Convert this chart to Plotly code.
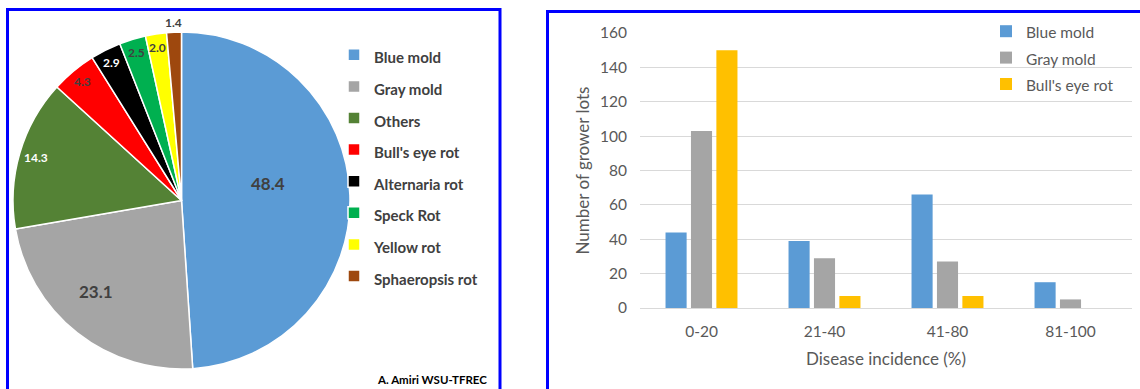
import math
import plotly.graph_objects as go

# ---------------- data ----------------
pie_labels = ["Blue mold", "Gray mold", "Others", "Bull's eye rot",
              "Alternaria rot", "Speck Rot", "Yellow rot", "Sphaeropsis rot"]
pie_values = [48.4, 23.1, 14.3, 4.3, 2.9, 2.5, 2.0, 1.4]

bar_categories = ["0-20", "21-40", "41-80", "81-100"]
blue_mold = [44, 39, 66, 15]
gray_mold = [103, 29, 27, 5]
bulls_eye_rot = [150, 7, 7, 0]

# ---------------- style ----------------
W, H = 1140, 389
FONT = "Lato"
pie_colors = ["#5B9BD5", "#A5A5A5", "#548235", "#FF0000",
              "#000000", "#00B050", "#FFFF00", "#9E480E"]
label_rfrac = [0.52, 0.74, 0.90, 0.92, 0.92, 0.92, 0.92, 1.06]
label_dangle = [-9, 5, 0, 0, 0, 0, 0, 0]   # degrees
label_size = [17, 17, 12, 12, 12, 12, 12, 12]
label_color = ["#404040", "#404040", "white", "#404040", "white",
               "#404040", "#404040", "#404040"]

cx, cy, R = 181.5, 200.5, 168.5   # pie centre / radius in pixels


def legend_text(name, size):
    return f"<span style='font-size:{size}px'>{name}</span>"


fig = go.Figure()

fig.add_trace(go.Pie(
    labels=[legend_text(n, 15) for n in pie_labels],
    values=pie_values,
    sort=False, direction="clockwise", rotation=0,
    marker=dict(colors=pie_colors, line=dict(color="white", width=1.5)),
    textinfo="none",
    hoverinfo="label+value",
    domain=dict(x=[(cx - R) / W, (cx + R) / W],
                y=[1 - (cy + R) / H, 1 - (cy - R) / H]),
    legend="legend",
    showlegend=True,
))

bar_series = [("Blue mold", blue_mold, "#5B9BD5"),
              ("Gray mold", gray_mold, "#A5A5A5"),
              ("Bull's eye rot", bulls_eye_rot, "#FFC000")]
for name, vals, col in bar_series:
    fig.add_trace(go.Bar(
        x=bar_categories, y=vals, name=legend_text(name, 15.5),
        marker=dict(color=col, line=dict(width=0)),
        legend="legend2",
    ))

# pie value labels, placed around each slice's mid-angle
total = sum(pie_values)
cum = 0.0
annotations = []
for v, f, da, s, c in zip(pie_values, label_rfrac, label_dangle,
                          label_size, label_color):
    theta = 2 * math.pi * (cum + v / 2) / total + math.radians(da)
    cum += v
    px = cx + f * R * math.sin(theta)
    py = cy - f * R * math.cos(theta)
    annotations.append(dict(
        x=px / W, y=1 - py / H, xref="paper", yref="paper",
        text=f"<b>{v:.1f}</b>", showarrow=False,
        font=dict(family=FONT, size=s, color=c),
        xanchor="center", yanchor="middle",
    ))

annotations.append(dict(
    x=489 / W, y=1 - 379 / H, xref="paper", yref="paper",
    text="<b>A. Amiri WSU-TFREC</b>", showarrow=False,
    font=dict(family=FONT, size=11.5, color="black"),
    xanchor="right", yanchor="middle",
))

shapes = [
    dict(type="rect", xref="paper", yref="paper",
         x0=7.5 / W, x1=500 / W, y0=-0.02, y1=1 - 9.5 / H,
         line=dict(color="#0000FF", width=3)),
    dict(type="rect", xref="paper", yref="paper",
         x0=547.5 / W, x1=1.01, y0=-0.02, y1=1 - 11.5 / H,
         line=dict(color="#0000FF", width=3)),
]

fig.update_layout(
    width=W, height=H,
    margin=dict(l=0, r=0, t=0, b=0, autoexpand=False),
    paper_bgcolor="white", plot_bgcolor="white",
    font=dict(family=FONT, color="#595959"),
    barmode="group", bargap=0.38, bargroupgap=0.17,
    annotations=annotations, shapes=shapes,
    legend=dict(x=334 / W, y=1 - 34 / H, xanchor="left", yanchor="top",
                font=dict(family=FONT, size=22, color="#404040", weight="bold"),
                bgcolor="rgba(0,0,0,0)", traceorder="normal"),
    legend2=dict(x=986 / W, y=1 - 13 / H, xanchor="left", yanchor="top",
                 font=dict(family=FONT, size=18, color="#595959"),
                 bgcolor="rgba(0,0,0,0)", traceorder="normal"),
    xaxis=dict(domain=[640 / W, 1132 / W], type="category",
               range=[-0.5, 3.5], showgrid=False, showline=False,
               ticks="", ticklabelstandoff=12, automargin=False,
               tickfont=dict(family=FONT, size=15.5, color="#595959"),
               title=dict(text="Disease incidence (%)", standoff=14,
                          font=dict(family=FONT, size=17, color="#595959"))),
    yaxis=dict(domain=[1 - 308 / H, 1 - 33 / H], range=[0, 160], dtick=20,
               showgrid=True, gridcolor="#D9D9D9", gridwidth=1.3,
               zeroline=True, zerolinecolor="#D9D9D9", zerolinewidth=1.3,
               showline=False, ticks="", ticklabelstandoff=12, automargin=False,
               tickfont=dict(family=FONT, size=15.5, color="#595959"),
               title=dict(text="Number of grower lots", standoff=6,
                          font=dict(family=FONT, size=17, color="#595959"))),
)

fig.write_html("out.html", config={"displayModeBar": False},
               post_script="document.body.style.margin='0';")
